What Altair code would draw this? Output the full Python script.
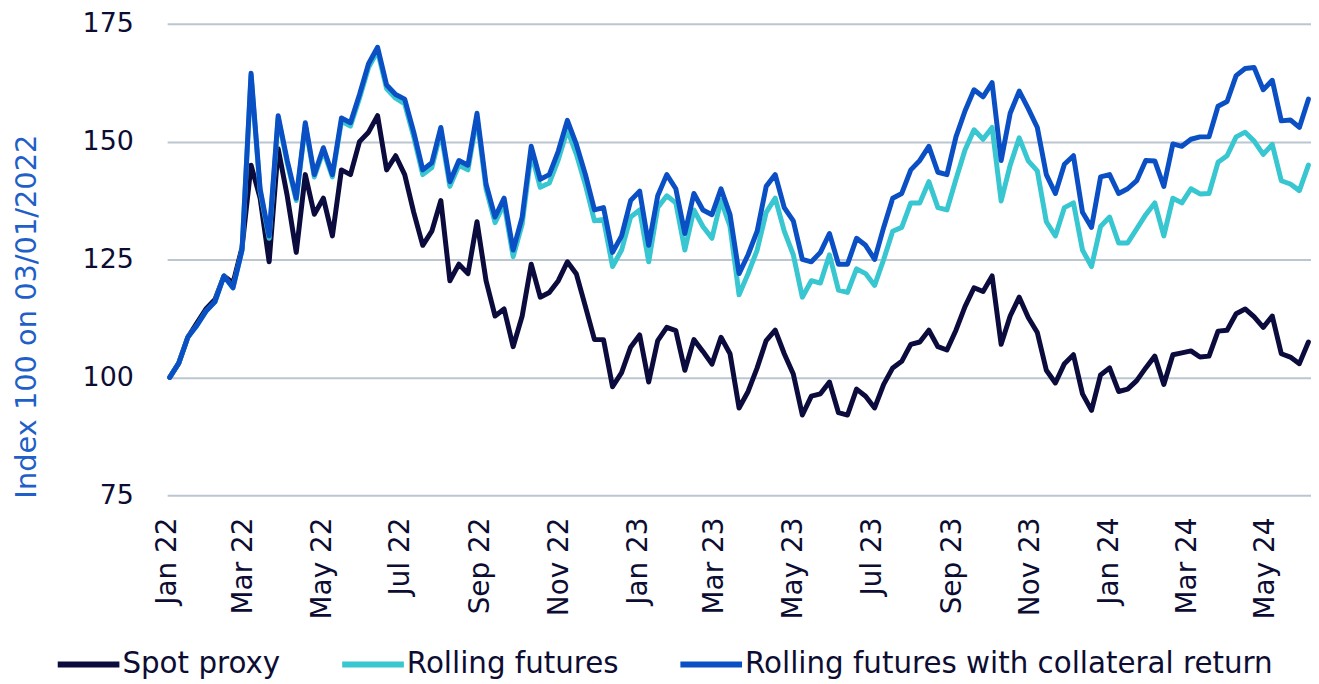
import altair as alt
import pandas as pd

# Weekly readings (Mondays from 3 Jan 2022), index 100 on 03/01/2022
spot = [100, 103, 108.5, 111.5, 114.5, 116.5, 121.5, 120, 127.5, 145,
        138, 124.5, 148.5, 138.5, 126.5, 143, 134.6, 138, 130, 144,
        143, 150, 152, 155.5, 144, 147, 143, 135, 128, 131,
        137.5, 120.5, 124, 122, 133, 120.5, 113, 114.5, 106.5, 113,
        124, 117, 118, 120.5, 124.5, 121.9, 115, 108, 108, 98,
        101, 106.4, 109, 99, 107.8, 110.6, 109.9, 101.5, 108, 105.5,
        102.8, 108.5, 105, 93.5, 97, 102, 107.8, 110, 105, 100.7,
        92, 96, 96.5, 99, 92.5, 92, 97.5, 96, 93.5, 98.5,
        102, 103.4, 107, 107.5, 110, 106.5, 105.8, 110, 115, 119,
        118.2, 121.5, 107, 113, 117, 112.7, 109.5, 101.5, 98.8, 102.9,
        104.8, 96.5, 93, 100.5, 102, 97, 97.5, 99.3, 102, 104.5,
        98.5, 104.8, 105.2, 105.6, 104.3, 104.5, 109.8, 110, 113.5, 114.5,
        112.8, 110.6, 113, 105, 104.3, 102.9, 107.5]

rolling = [100, 103, 108.5, 111, 114, 116, 121.5, 119, 127, 164,
           139.5, 129.5, 155, 145.5, 137.5, 153.5, 142.5, 148, 142.5, 154.3,
           153.3, 159.2, 165.7, 169.2, 161.2, 159.2, 158, 151, 143, 144.5,
           152, 140.5, 145, 144, 155, 140, 132.8, 136.8, 125.6, 132.5,
           147.5, 140.3, 141.2, 146.2, 152.5, 147.3, 140.8, 133.2, 133.5, 123.5,
           127, 134, 135.5, 124.5, 136, 138.5, 137, 127, 135.5, 132,
           129.5, 137.5, 132, 117.5, 122, 127, 135, 138, 131, 126,
           117, 120.5, 120, 126, 118.5, 118, 123, 122, 119.5, 125,
           131, 131.8, 137, 137, 141.5, 136, 135.5, 142, 148.2, 152.5,
           150.5, 153, 137.4, 145, 150.8, 145.9, 143.8, 133, 130, 136,
           137, 127, 123.5, 132, 134, 128.5, 128.5, 131.5, 134.5, 137,
           130, 138, 137, 140, 138.9, 139, 145.6, 147, 151, 152,
           150.1, 147.3, 149.4, 141.7, 141, 139.6, 145]

collateral = [100, 103, 108.5, 111, 114, 116, 121.5, 119, 127, 164.5,
              140, 130, 155.5, 146, 138, 154, 143, 148.7, 143, 155,
              154, 160, 166.5, 170, 162, 160, 159, 152, 144, 145.5,
              153, 141.5, 146, 145, 156, 141, 134, 138, 127, 134,
              149, 142, 143, 148, 154.5, 149.4, 143, 135.5, 136, 126.5,
              130, 137.5, 139.5, 128, 138.5, 143, 140, 130.5, 139, 135.5,
              134.5, 140, 134.5, 122, 126, 131, 140.5, 143, 136, 133.2,
              125, 124.5, 126.5, 130.5, 124, 124, 129.5, 128, 125, 131.8,
              138, 139, 144, 146, 149, 143.5, 143, 151, 156.5, 161,
              159.5, 162.5, 146, 156, 160.7, 157, 153, 143, 139, 145.2,
              147, 135, 131.8, 142.5, 143, 139, 140, 141.7, 146, 145.9,
              140.5, 149.5, 149, 150.5, 151, 151, 157.5, 158.5, 164, 165.5,
              165.7, 161, 163, 154.4, 154.6, 153, 159]

series_names = ["Spot proxy", "Rolling futures", "Rolling futures with collateral return"]
series_colors = ["#0b0c3d", "#38c6d0", "#0a4fc4"]
tick_months = [(2022, 1), (2022, 3), (2022, 5), (2022, 7), (2022, 9), (2022, 11),
               (2023, 1), (2023, 3), (2023, 5), (2023, 7), (2023, 9), (2023, 11),
               (2024, 1), (2024, 3), (2024, 5)]
y_ticks = [75, 100, 125, 150, 175]

dates = pd.date_range("2022-01-03", periods=len(spot), freq="7D")
rows = []
for name, vals in zip(series_names, [spot, rolling, collateral]):
    for d, v in zip(dates, vals):
        rows.append({"date": d, "value": v, "series": name})
df = pd.DataFrame(rows)

FONT = "DejaVu Sans"
TEXT = "#0d0d33"

x_enc = alt.X(
    "date:T",
    scale=alt.Scale(domain=[alt.DateTime(year=2022, month=1, date=1),
                            alt.DateTime(year=2024, month=6, date=5)]),
    axis=alt.Axis(
        values=[alt.DateTime(year=y, month=m, date=1) for y, m in tick_months],
        format="%b %y", labelAngle=-90, labelFont=FONT, labelFontSize=28,
        labelColor=TEXT, labelPadding=22, labelFlush=False, labelOverlap=False,
        domain=False, ticks=False, grid=False, title=None),
)
y_enc = alt.Y(
    "value:Q",
    scale=alt.Scale(domain=[75, 175], nice=False, zero=False),
    axis=alt.Axis(
        values=y_ticks, title="Index 100 on 03/01/2022", titleFont=FONT,
        titleFontSize=29, titleFontWeight="normal", titleColor="#1f5fc7",
        titleX=-141, titleY=294, titleAngle=-90, titleAlign="center",
        titleBaseline="middle", labelFont=FONT, labelFontSize=27,
        labelColor=TEXT, labelPadding=34, domain=False, ticks=False,
        grid=True, gridColor="#bcc6d0", gridWidth=2),
)
color_enc = alt.Color(
    "series:N",
    scale=alt.Scale(domain=series_names, range=series_colors),
    legend=alt.Legend(
        title=None, orient="none", legendX=-113, legendY=610,
        direction="horizontal", symbolType="stroke", symbolSize=3844,
        symbolStrokeWidth=6, labelFont=FONT, labelFontSize=29.5,
        labelColor=TEXT, columnPadding=50, labelOffset=0, padding=0,
        labelLimit=0),
)

layers = []
for name in series_names:
    layers.append(
        alt.Chart(df)
        .transform_filter(alt.datum.series == name)
        .mark_line(strokeWidth=5, strokeJoin="round", strokeCap="round")
        .encode(x=x_enc, y=y_enc, color=color_enc)
    )

chart = (
    alt.layer(*layers)
    .properties(
        width=1150, height=474,
        padding={"left": 160, "top": 14, "right": 0, "bottom": 188},
        autosize=alt.AutoSizeParams(type="none"),
    )
    .configure_view(strokeWidth=0)
)

chart.save("out.html", embed_options={"renderer": "svg", "actions": False})
